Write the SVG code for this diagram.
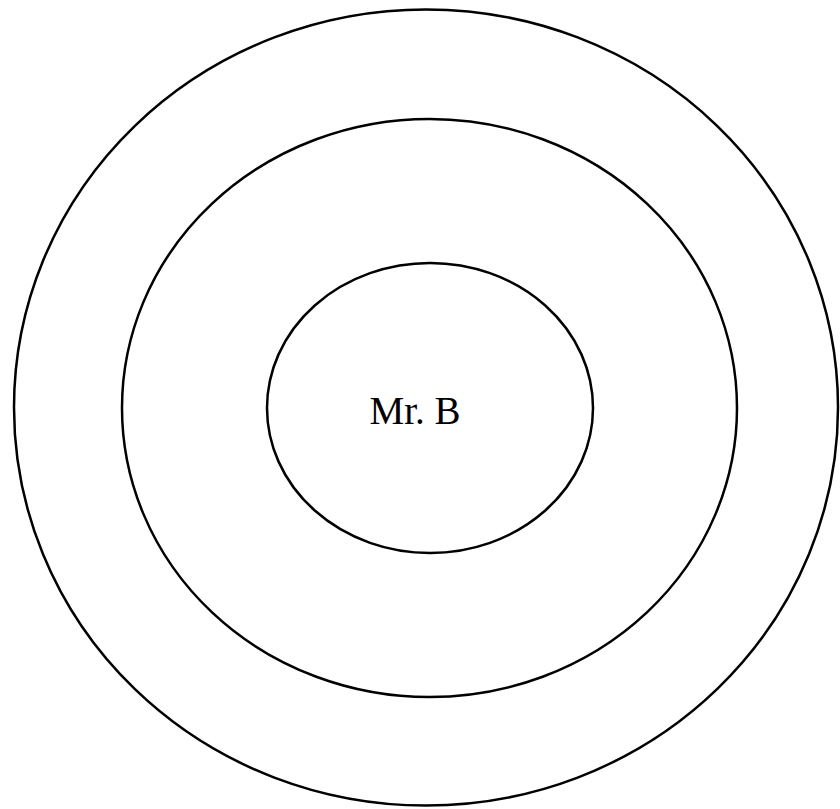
<svg xmlns="http://www.w3.org/2000/svg" width="840" height="809" viewBox="0 0 840 809">
<style>
.ring{fill:none;stroke:#000;stroke-width:2.5}
.lbl{font-family:"Liberation Serif","Times New Roman",serif;font-size:39px;fill:#000}
</style>
<rect width="840" height="809" fill="#fff"/>
<g id="outer"><ellipse class="ring" cx="426" cy="407.5" rx="412" ry="398"/></g>
<g id="middle"><ellipse class="ring" cx="429.5" cy="408" rx="307.5" ry="289"/></g>
<g id="inner"><ellipse class="ring" cx="430" cy="408" rx="163" ry="145"/><text class="lbl" x="415" y="424" text-anchor="middle">Mr. B</text></g>
<g id="connectors"/>
</svg>
